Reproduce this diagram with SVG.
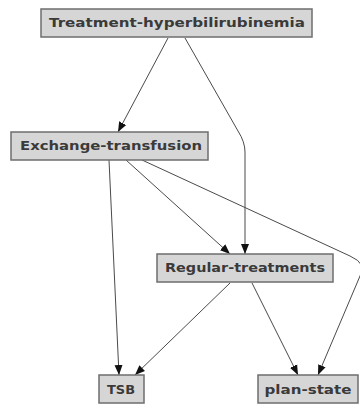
<svg xmlns="http://www.w3.org/2000/svg" width="360" height="407" viewBox="0 0 360 407">
<style>
.box{fill:#d6d6d6;stroke:#6e6e6e;stroke-width:1.5}
.lbl{font-family:"DejaVu Sans",sans-serif;font-weight:bold;font-size:11.5px;fill:#3a3a3a;text-anchor:middle}
.edge{fill:none;stroke:#4a4a4a;stroke-width:1}
</style>
<defs>
<marker id="arr" markerUnits="userSpaceOnUse" markerWidth="10" markerHeight="10" viewBox="0 0 10 10" refX="10" refY="5" orient="auto">
<path d="M0,1 L10,5 L0,9 Z" fill="#111"/>
</marker>
</defs>
<rect width="360" height="407" fill="#fff"/>
<g id="connectors">
<path class="edge" marker-end="url(#arr)" d="M168,38 L118,132"/>
<path class="edge" marker-end="url(#arr)" d="M185,38 L238,131 Q245,142 245,152 L245,254"/>
<path class="edge" marker-end="url(#arr)" d="M126,160 L230,254"/>
<path class="edge" marker-end="url(#arr)" d="M142,160 L350,256 Q368,264 360,276 L318,375"/>
<path class="edge" marker-end="url(#arr)" d="M109,160 L119,375"/>
<path class="edge" marker-end="url(#arr)" d="M230,283 L135,375"/>
<path class="edge" marker-end="url(#arr)" d="M252,283 L298,375"/>
</g>
<g id="n1"><rect class="box" x="41" y="9" width="271" height="28"/><text class="lbl" x="177" y="27" textLength="256" lengthAdjust="spacingAndGlyphs">Treatment-hyperbilirubinemia</text></g>
<g id="n2"><rect class="box" x="11" y="132" width="197" height="28"/><text class="lbl" x="111" y="150" textLength="182" lengthAdjust="spacingAndGlyphs">Exchange-transfusion</text></g>
<g id="n3"><rect class="box" x="157" y="254" width="176" height="28"/><text class="lbl" x="245" y="272" textLength="160" lengthAdjust="spacingAndGlyphs">Regular-treatments</text></g>
<g id="n4"><rect class="box" x="99" y="375" width="45" height="28"/><text class="lbl" x="121" y="394" textLength="28" lengthAdjust="spacingAndGlyphs">TSB</text></g>
<g id="n5"><rect class="box" x="258" y="375" width="100" height="28"/><text class="lbl" x="308" y="394" textLength="87" lengthAdjust="spacingAndGlyphs">plan-state</text></g>
</svg>
